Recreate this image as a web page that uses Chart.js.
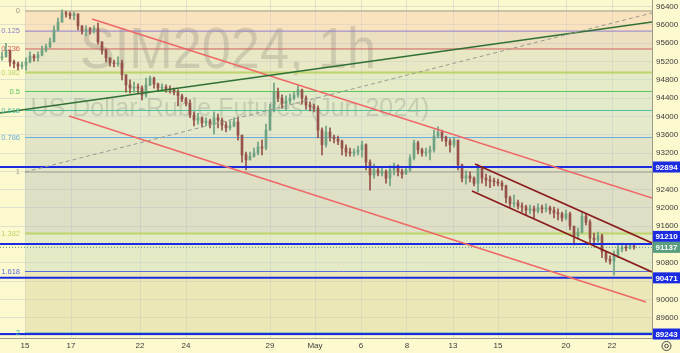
<!DOCTYPE html>
<html>
<head>
<meta charset="utf-8">
<script src="https://cdn.jsdelivr.net/npm/chart.js@4.4.1/dist/chart.umd.min.js"></script>
<style>
  html, body { margin: 0; padding: 0; background: #fdf9cf; }
  #wrap { width: 680px; height: 353px; }
</style>
</head>
<body>
<div id="wrap"><canvas id="chart" width="680" height="353"></canvas></div>
<script>
// hourly candles, SiM4 (USD/RUB futures)
const firstOpen = 95280;
const closes = [95300,95450,95190,95150,95100,95120,95190,95320,95280,95340,
  95450,95520,95630,95890,96060,96260,96240,96200,96240,95980,
  95870,95910,95890,95910,95630,95450,95280,95170,95150,95170,
  94910,94690,94620,94640,94620,94470,94690,94840,94710,94620,
  94640,94600,94580,94530,94450,94380,94290,94030,93920,93970,
  93860,93900,93830,93970,93920,93810,93750,93790,93880,93590,
  93160,93050,93130,93200,93330,93310,93700,94140,94530,94400,
  94290,94340,94400,94470,94580,94400,94250,94210,94180,93700,
  93380,93660,93550,93510,93460,93310,93220,93200,93220,93270,
  93380,93000,92720,92830,92760,92790,92650,92830,92920,92790,
  92740,92830,93090,93420,93270,93200,93220,93270,93570,93660,
  93550,93460,93380,93480,92940,92650,92700,92650,92540,92870,
  92650,92610,92590,92570,92540,92480,92220,92090,92110,92040,
  92020,91950,91980,91930,92000,91980,92000,91950,91890,91870,
  91780,91870,91600,91390,91470,91820,91690,91340,91300,91390,
  91040,90880,90840,90970,91100,91140,91120,91170,91137];
const highs = [95410,95600,95340,95230,95190,95190,95280,95410,95360,95410,
  95540,95580,95710,95980,96150,96330,96300,96280,96280,96240,
  95980,95980,95950,95980,96040,95630,95470,95280,95230,95300,
  95230,94910,94800,94750,94710,94670,94840,94880,94860,94730,
  94710,94690,94670,94620,94580,94490,94420,94360,94100,94070,
  93990,93970,93940,94100,94050,93970,93880,93900,93970,93990,
  93590,93220,93220,93310,93440,93480,93830,94270,94730,94620,
  94470,94450,94490,94530,94670,94600,94450,94320,94270,94230,
  93750,93790,93750,93590,93570,93480,93380,93310,93290,93350,
  93460,93400,93050,92960,92890,92870,92830,92920,92980,92940,
  92850,92890,93160,93480,93460,93310,93310,93350,93700,93770,
  93700,93570,93510,93550,93480,92960,92810,92790,92680,92940,
  92890,92740,92700,92650,92630,92590,92500,92260,92280,92170,
  92110,92060,92060,92040,92090,92060,92090,92040,92020,91980,
  91910,91950,91910,91600,91560,91910,91870,91740,91450,91470,
  91430,90990,90950,91060,91190,91230,91210,91210,91190];
const lows = [95230,95340,95100,95060,95010,95040,95010,95170,95210,95210,
  95320,95410,95500,95630,95870,96060,96170,96130,96110,95890,
  95800,95760,95800,95820,95580,95360,95190,95100,95080,95100,
  94800,94530,94510,94530,94510,94360,94420,94670,94620,94560,
  94560,94530,94510,94470,94230,94320,94230,93970,93790,93830,
  93770,93790,93750,93620,93750,93700,93660,93700,93770,93480,
  93000,92830,93050,93110,93160,93160,93270,93700,94100,94320,
  94180,94140,94270,94360,94420,94270,94160,94120,94100,93530,
  93160,93330,93460,93420,93380,93160,93130,93130,93130,93160,
  93110,92830,92390,92650,92700,92700,92540,92480,92720,92700,
  92650,92740,92790,93050,93180,93130,93130,93050,93220,93530,
  93460,93350,93220,93330,92830,92570,92520,92570,92480,92350,
  92540,92480,92440,92480,92480,92390,92110,92020,92020,91980,
  91910,91850,91870,91780,91890,91890,91910,91870,91780,91740,
  91710,91740,91520,91190,91340,91450,91630,91230,91190,91250,
  90910,90820,90770,90530,90910,91040,91060,91100,91100];

// time axis (bar index of each label)
const xTickPos = [5.75, 17.25, 34.5, 46, 67, 78.25, 89.75, 101.25, 112.75, 124, 141, 152.5];
const xTickLabels = ['15', '17', '22', '24', '29', 'May', '6', '8', '13', '15', '20', '22'];

// price axis
const yGridValues = [89200, 89600, 90000, 90400, 90800, 91200, 91600, 92000, 92400, 92800,
  93200, 93600, 94000, 94400, 94800, 95200, 95600, 96000, 96400];
const yTickLabels = [89600, 90000, 90800, 91600, 92000, 92400, 93200, 93600, 94000,
  94400, 94800, 95200, 95600, 96000, 96400];

// fibonacci retracement
const fibRatios = ['0', '0.125', '0.236', '0.382', '0.5', '0.618', '0.786', '1', '1.382', '1.618', '2'];
const fibPrices = [96305, 95865, 95474, 94960, 94545, 94130, 93538, 92785, 91440, 90610, 89265];
const fibStartX = 5.75;

// horizontal levels and last price
const levels = [92894, 91210, 90471, 89243];
const lastPrice = 91137;

// trend lines: [x0, price0, x1, price1]
const greenLine = [-0.5, 94075, 162.5, 96064];
const dashedLine = [5.75, 92785, 162.5, 96261];
const redUpper = [22.5, 96130, 162.5, 92217];
const redLower = [16.75, 94009, 161, 89943];
const channelUpper = [118.25, 92960, 162.5, 91233];
const channelLower = [117.5, 92370, 162.5, 90600];

const xMin = -0.5, xMax = 162.5;
const yMin = 89156, yMax = 96545;

const fibLineColors = ['#a09a86', '#8f7fcf', '#d06060', '#bcd46a', '#5cc65c', '#4cc0a0',
  '#6aaedc', '#9c9c90', '#bcd46a', '#5868e0', '#3ab0a0'];
const fibBandColors = ['rgba(243,206,174,0.5)', 'rgba(219,200,178,0.5)', 'rgba(213,216,186,0.5)',
  'rgba(205,222,192,0.5)', 'rgba(199,220,196,0.5)', 'rgba(201,218,198,0.5)', 'rgba(201,208,190,0.5)',
  'rgba(193,198,188,0.5)', 'rgba(205,220,190,0.5)', 'rgba(217,214,160,0.5)'];
const upColor = '#6fa283';
const downColor = '#94524a';
const levelBlue = '#1b2be0';
const lastColor = '#5b9e7f';

const opens = closes.map((c, i) => i === 0 ? firstOpen : closes[i - 1]);
const candleColors = closes.map((c, i) => c >= opens[i] ? upColor : downColor);

function segment(seg, color, width, extra) {
  return Object.assign({
    type: 'line',
    data: [{x: seg[0], y: seg[1]}, {x: seg[2], y: seg[3]}],
    borderColor: color,
    borderWidth: width,
    pointRadius: 0,
    fill: false,
    order: 10
  }, extra || {});
}

const datasets = [];

// candles
datasets.push({
  type: 'bar',
  data: closes.map((c, i) => ({x: i, y: [Math.min(lows[i], opens[i], c), Math.max(highs[i], opens[i], c)]})),
  backgroundColor: candleColors,
  barThickness: 1,
  grouped: false,
  order: 31
});
datasets.push({
  type: 'bar',
  data: closes.map((c, i) => ({x: i, y: [opens[i], c]})),
  backgroundColor: candleColors,
  barThickness: 2,
  minBarLength: 1,
  grouped: false,
  order: 30
});

// fib levels with bands between them
fibPrices.forEach((p, k) => {
  datasets.push(segment([fibStartX, p, xMax, p], fibLineColors[k],
    (k === 3 || k === 8) ? 2 : 1,
    {fill: k < fibPrices.length - 1 ? '+1' : false, backgroundColor: fibBandColors[k] || 'transparent', order: 50}));
});

// horizontal levels
levels.forEach(p => datasets.push(segment([xMin, p, xMax, p], levelBlue, 2, {order: 20})));
datasets.push(segment([xMin, lastPrice, xMax, lastPrice], lastColor, 1, {borderDash: [1, 2], order: 20}));

// trend lines
datasets.push(segment(dashedLine, '#9a9a90', 1, {borderDash: [4, 3]}));
datasets.push(segment(greenLine, '#2f6f34', 1.6));
datasets.push(segment(redUpper, '#ef6666', 1.4));
datasets.push(segment(redLower, '#ef6666', 1.4));
datasets.push(segment(channelUpper, '#8a1c1c', 1.6));
datasets.push(segment(channelLower, '#8a1c1c', 1.6));

const background = {
  id: 'background',
  beforeDraw(chart) {
    const ctx = chart.ctx;
    ctx.save();
    ctx.fillStyle = '#fdf9cf';
    ctx.fillRect(0, 0, chart.width, chart.height);
    ctx.restore();
  }
};

const watermark = {
  id: 'watermark',
  beforeDatasetsDraw(chart) {
    const ctx = chart.ctx;
    ctx.save();
    ctx.fillStyle = 'rgba(90,90,90,0.2)';
    ctx.textAlign = 'center';
    ctx.textBaseline = 'alphabetic';
    ctx.font = '58px "Liberation Sans", Arial, sans-serif';
    ctx.fillText('SIM2024, 1h', 228, 68, 296);
    ctx.font = '25px "Liberation Sans", Arial, sans-serif';
    ctx.fillText('US Dollar-Ruble Futures (Jun 2024)', 230, 116, 430);
    ctx.restore();
  }
};

const fibLabels = {
  id: 'fibLabels',
  afterDatasetsDraw(chart) {
    const ctx = chart.ctx, xs = chart.scales.x, ys = chart.scales.y;
    const x = xs.getPixelForValue(fibStartX) - 5;
    ctx.save();
    ctx.font = '7.5px "Liberation Sans", Arial, sans-serif';
    ctx.textAlign = 'right';
    ctx.textBaseline = 'middle';
    fibRatios.forEach((r, k) => {
      ctx.fillStyle = fibLineColors[k];
      ctx.fillText(r, x, ys.getPixelForValue(fibPrices[k]));
    });
    ctx.restore();
  }
};

const axisBoxes = {
  id: 'axisBoxes',
  afterDraw(chart) {
    const ctx = chart.ctx, ys = chart.scales.y, area = chart.chartArea;
    const h = 11, x0 = area.right + 1, w = chart.width - x0;
    const lastY = ys.getPixelForValue(lastPrice);
    ctx.save();
    ctx.font = 'bold 8px "Liberation Sans", Arial, sans-serif';
    ctx.textAlign = 'center';
    ctx.textBaseline = 'middle';
    const box = (p, y, color) => {
      ctx.fillStyle = color;
      ctx.fillRect(x0, y - h / 2, w, h);
      ctx.fillStyle = '#ffffff';
      ctx.fillText(String(p), x0 + w / 2, y + 0.5);
    };
    levels.forEach(p => {
      let y = ys.getPixelForValue(p);
      if (Math.abs(y - lastY) < h) y = y < lastY ? lastY - h : lastY + h;
      box(p, y, levelBlue);
    });
    box(lastPrice, lastY, lastColor);

    // settings gear in the corner
    const gx = x0 + w / 2, gy = area.bottom + 8;
    ctx.strokeStyle = '#444';
    ctx.lineWidth = 1;
    ctx.beginPath();
    ctx.arc(gx, gy, 4.5, 0, Math.PI * 2);
    ctx.stroke();
    ctx.beginPath();
    ctx.arc(gx, gy, 1.8, 0, Math.PI * 2);
    ctx.stroke();
    ctx.restore();
  }
};

new Chart(document.getElementById('chart').getContext('2d'), {
  type: 'bar',
  data: {datasets: datasets},
  options: {
    responsive: false,
    animation: false,
    layout: {padding: 0},
    plugins: {
      legend: {display: false},
      tooltip: {enabled: false},
      filler: {drawTime: 'beforeDatasetsDraw'}
    },
    scales: {
      x: {
        type: 'linear',
        min: xMin,
        max: xMax,
        offset: false,
        afterBuildTicks: s => { s.ticks = xTickPos.map(v => ({value: v})); },
        afterFit: s => { s.height = 15; s.paddingLeft = 0; s.paddingRight = 0; },
        ticks: {
          autoSkip: false,
          maxRotation: 0,
          padding: 3,
          color: '#3c3c3c',
          font: {size: 8, family: '"Liberation Sans", Arial, sans-serif'},
          callback: (v, i) => xTickLabels[i]
        },
        grid: {color: 'rgba(150,170,205,0.3)', drawTicks: false, offset: false},
        border: {display: true, color: '#9a9a8c'}
      },
      y: {
        type: 'linear',
        position: 'right',
        min: yMin,
        max: yMax,
        afterBuildTicks: s => { s.ticks = yGridValues.map(v => ({value: v})); },
        afterFit: s => { s.width = 28; s.paddingTop = 0; s.paddingBottom = 0; },
        ticks: {
          padding: 4,
          color: '#3c3c3c',
          font: {size: 8, family: '"Liberation Sans", Arial, sans-serif'},
          callback: v => yTickLabels.includes(v) ? String(v) : ''
        },
        grid: {color: 'rgba(150,170,205,0.3)', drawTicks: false},
        border: {display: true, color: '#9a9a8c'}
      }
    }
  },
  plugins: [background, watermark, fibLabels, axisBoxes]
});
</script>
</body>
</html>
